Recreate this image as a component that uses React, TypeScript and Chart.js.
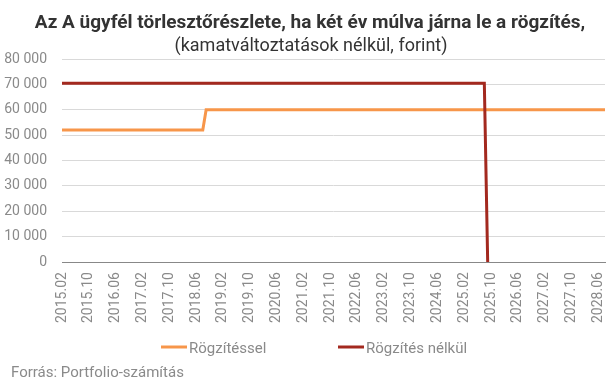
import React, { useEffect, useRef } from "react";
import { Chart, registerables } from "chart.js";

Chart.register(...registerables);

const TITLE = "Az A ügyfél törlesztőrészlete, ha két év múlva járna le a rögzítés,";
const SUBTITLE = "(kamatváltoztatások nélkül, forint)";
const SOURCE = "Forrás: Portfolio-számítás";

// Monthly category axis: 2015.02 .. 2028.08
const START_YEAR = 2015;
const START_MONTH = 2;
const MONTH_COUNT = 163;
const MONTHS: string[] = [];
for (let i = 0; i < MONTH_COUNT; i++) {
  const m = START_MONTH - 1 + i;
  const y = START_YEAR + Math.floor(m / 12);
  const mm = (m % 12) + 1;
  MONTHS.push(`${y}.${mm < 10 ? "0" + mm : mm}`);
}

const TICK_LABELS = [
  "2015.02", "2015.10", "2016.06", "2017.02", "2017.10", "2018.06", "2019.02",
  "2019.10", "2020.06", "2021.02", "2021.10", "2022.06", "2023.02", "2023.10",
  "2024.06", "2025.02", "2025.10", "2026.06", "2027.02", "2027.10", "2028.06",
];

const Y_TICKS = [0, 10000, 20000, 30000, 40000, 50000, 60000, 70000, 80000];

// Series (step changes)
const ROGZITESSEL_LABEL = "Rögzítéssel";
const ROGZITESSEL_DATES = ["2015.02", "2018.08", "2018.09", "2028.08"];
const ROGZITESSEL_VALUES = [52000, 52000, 60000, 60000];

const NELKUL_LABEL = "Rögzítés nélkül";
const NELKUL_DATES = ["2015.02", "2025.08", "2025.09"];
const NELKUL_VALUES = [70400, 70400, 0];

const ORANGE = "#f7964a";
const DARKRED = "#a3291f";

const fmt = (v: number) => {
  const s = String(Math.round(v));
  return s.replace(/\B(?=(\d{3})+(?!\d))/g, " ");
};

const decorPlugin = {
  id: "decor",
  afterDraw(chart: any) {
    const ctx = chart.ctx as CanvasRenderingContext2D;
    ctx.save();
    ctx.textAlign = "center";
    ctx.textBaseline = "alphabetic";
    ctx.fillStyle = "#333333";
    ctx.font = "bold 19px Roboto";
    ctx.fillText(TITLE, 310, 28);
    ctx.font = "18px Roboto";
    ctx.fillText(SUBTITLE, 311, 51);

    // legend
    const items = [
      { label: ROGZITESSEL_LABEL, color: ORANGE, x: 161 },
      { label: NELKUL_LABEL, color: DARKRED, x: 338 },
    ];
    ctx.textAlign = "left";
    ctx.font = "15px Roboto";
    for (const it of items) {
      ctx.strokeStyle = it.color;
      ctx.lineWidth = 3;
      ctx.beginPath();
      ctx.moveTo(it.x, 347);
      ctx.lineTo(it.x + 26, 347);
      ctx.stroke();
      ctx.fillStyle = "#8a8a8a";
      ctx.fillText(it.label, it.x + 28, 352.5);
    }
    ctx.fillStyle = "#8a8a8a";
    ctx.fillText(SOURCE, 11, 377);
    ctx.restore();
  },
};

export default function App() {
  const ref = useRef<HTMLCanvasElement | null>(null);
  useEffect(() => {
    if (!ref.current) return;
    const chart = new Chart(ref.current, {
      type: "line",
      data: {
        labels: MONTHS,
        datasets: [
          {
            label: NELKUL_LABEL,
            data: NELKUL_DATES.map((d, i) => ({ x: d, y: NELKUL_VALUES[i] })) as any,
            borderColor: DARKRED,
            backgroundColor: DARKRED,
            borderWidth: 3,
            pointRadius: 0,
            tension: 0,
          },
          {
            label: ROGZITESSEL_LABEL,
            data: ROGZITESSEL_DATES.map((d, i) => ({ x: d, y: ROGZITESSEL_VALUES[i] })) as any,
            borderColor: ORANGE,
            backgroundColor: ORANGE,
            borderWidth: 3,
            pointRadius: 0,
            tension: 0,
          },
        ],
      },
      options: {
        animation: false,
        responsive: false,
        maintainAspectRatio: false,
        layout: { padding: { top: 59, left: 4, right: 2, bottom: 59 } },
        plugins: {
          legend: { display: false },
          title: { display: false },
          tooltip: { enabled: false },
        },
        scales: {
          x: {
            type: "category",
            grid: { display: false, drawTicks: true, tickLength: 10 },
            border: { display: true, color: "#888888", width: 1 },
            afterFit: (axis: any) => {
              axis.paddingLeft = 0;
              axis.paddingRight = 0;
            },
            ticks: {
              autoSkip: false,
              maxRotation: 90,
              minRotation: 90,
              padding: 0,
              color: "#8a8a8a",
              font: { family: "Roboto", size: 14 },
              callback: function (this: any, _v: any, idx: number) {
                const l = MONTHS[idx];
                return TICK_LABELS.includes(l) ? l : null;
              },
            },
          },
          y: {
            min: 0,
            max: 80000,
            afterBuildTicks: (axis: any) => {
              axis.ticks = Y_TICKS.map((v) => ({ value: v }));
            },
            afterFit: (axis: any) => {
              axis.width = 58;
            },
            grid: {
              drawTicks: false,
              color: (c: any) => (c.tick && c.tick.value === 0 ? "#888888" : "#d9d9d9"),
              lineWidth: 1,
            },
            border: { display: false },
            ticks: {
              padding: 15,
              color: "#8a8a8a",
              font: { family: "Roboto", size: 14 },
              callback: (v: any) => fmt(Number(v)),
            },
          },
        },
      },
      plugins: [decorPlugin],
    });
    return () => chart.destroy();
  }, []);
  return (
    <div style={{ position: "fixed", left: 0, top: 0, width: 607, height: 382, background: "#fff" }}>
      <canvas ref={ref} width={607} height={382} style={{ width: 607, height: 382, display: "block" }} />
    </div>
  );
}
